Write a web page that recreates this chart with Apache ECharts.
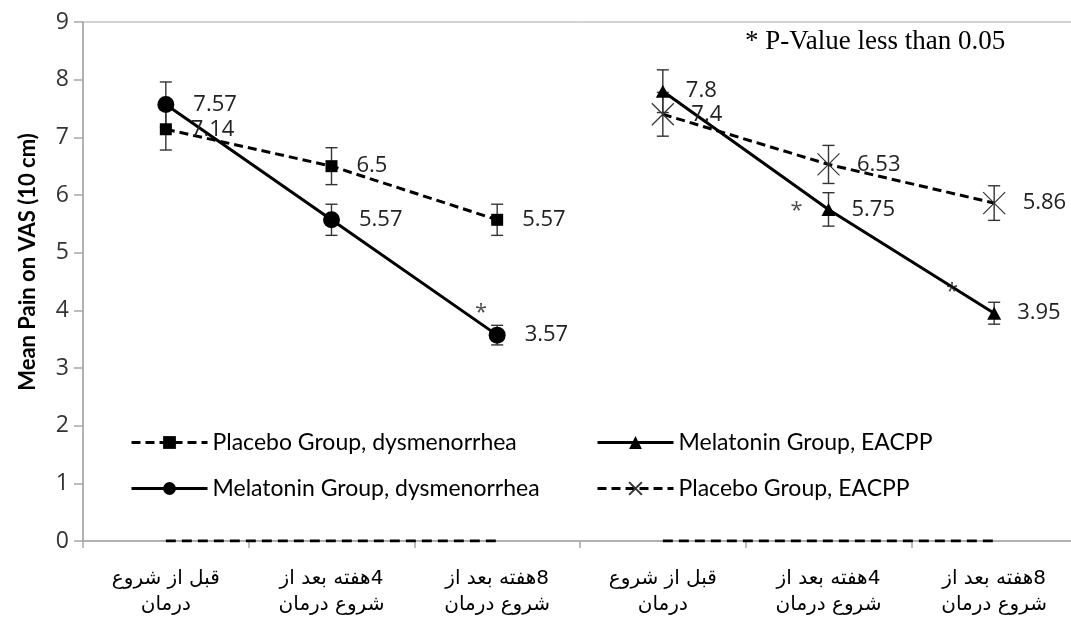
<!DOCTYPE html>
<html><head><meta charset="utf-8">
<script src="https://cdn.jsdelivr.net/npm/echarts@6/dist/echarts.min.js"></script>
<style>html,body{margin:0;padding:0;background:#fff}#c{width:1071px;height:617px}</style>
</head><body><div id="c"></div><script>
// ---- data ----
const categories = [
  'قبل از شروع\nدرمان', '4هفته بعد از\nشروع درمان', '8هفته بعد از\nشروع درمان',
  'قبل از شروع\nدرمان', '4هفته بعد از\nشروع درمان', '8هفته بعد از\nشروع درمان'
];
const yMin = 0, yMax = 9, yInterval = 1;
const placeboDys       = [7.14, 6.5, 5.57, null, null, null];
const placeboDysErr    = [0.36, 0.32, 0.27, null, null, null];
const melatoninDys     = [7.57, 5.57, 3.57, null, null, null];
const melatoninDysErr  = [0.39, 0.27, 0.17, null, null, null];
const melatoninEacpp    = [null, null, null, 7.8, 5.75, 3.95];
const melatoninEacppErr = [null, null, null, 0.37, 0.29, 0.19];
const placeboEacpp      = [null, null, null, 7.4, 6.53, 5.86];
const placeboEacppErr   = [null, null, null, 0.38, 0.33, 0.30];
const zeroLeft  = [0, 0, 0, null, null, null];
const zeroRight = [null, null, null, 0, 0, 0];
// significance markers: [category index, value of the point they refer to]
const asteriskPoints = [[2, 3.57], [4, 5.75], [5, 3.95]];
const noteText = '* P-Value less than 0.05';
const yAxisTitle = 'Mean Pain on VAS (10 cm)';
const names = ['Placebo Group, dysmenorrhea', 'Melatonin Group, EACPP',
               'Melatonin Group, dysmenorrhea', 'Placebo Group, EACPP'];

// ---- build ----
function errRows(vals, errs) {
  const out = [];
  vals.forEach((v, i) => { if (v != null && errs[i] != null) out.push([i, v - errs[i], v + errs[i]]); });
  return out;
}
const errData = [].concat(
  errRows(placeboDys, placeboDysErr), errRows(melatoninDys, melatoninDysErr),
  errRows(melatoninEacpp, melatoninEacppErr), errRows(placeboEacpp, placeboEacppErr));

const RLE = '\u202B', PDF = '\u202C';
const labelFont = 'Open Sans';
const black = '#000';
const xPath = 'path://M0,0L20,20M20,0L0,20';

function lineSeries(name, data, opts) {
  return Object.assign({
    name, type: 'line', data, z: 3,
    connectNulls: false,
    itemStyle: { color: black },
    lineStyle: { color: black, width: 3 },
    label: { show: true, position: 'right', fontFamily: labelFont, fontSize: 22, color: '#222' },
    emphasis: { disabled: true }
  }, opts);
}

const chart = echarts.init(document.getElementById('c'), null, { renderer: 'canvas' });
const legendBase = {
  itemWidth: 76, itemHeight: 16, itemGap: 6,
  textStyle: { fontFamily: 'Lato', fontSize: 23, color: '#000' },
  lineStyle: { width: 3 },
  selectedMode: false, padding: 0
};
chart.setOption({
  animation: false,
  backgroundColor: '#fff',
  title: {
    text: noteText, left: 745, top: 28, padding: 0,
    textStyle: { fontFamily: 'Liberation Serif', fontSize: 27, fontWeight: 'normal', color: '#000' }
  },
  graphic: [{
    type: 'text', x: 28, y: 262, rotation: Math.PI / 2, silent: true,
    style: {
      text: yAxisTitle, align: 'center', verticalAlign: 'middle',
      font: 'bold 22px Lato', fill: '#000'
    }
  }],
  legend: [
    Object.assign({ data: [names[0]], left: 130, top: 431 }, legendBase),
    Object.assign({ data: [names[1]], left: 596, top: 431 }, legendBase),
    Object.assign({ data: [names[2]], left: 130, top: 477 }, legendBase),
    Object.assign({ data: [names[3]], left: 596, top: 477 }, legendBase)
  ],
  grid: {
    left: 83, top: 22, right: -6, bottom: 76,
    show: true, borderColor: '#a6a6a6', borderWidth: 1,
    containLabel: false, outerBoundsMode: 'none'
  },
  xAxis: {
    type: 'category', data: categories, boundaryGap: true,
    axisLine: { show: true, lineStyle: { color: '#a6a6a6', width: 1.5 } },
    axisTick: { show: true, length: 7, lineStyle: { color: '#a6a6a6', width: 1.5 } },
    axisLabel: {
      interval: 0, margin: 25, fontFamily: 'DejaVu Sans', fontSize: 20, color: '#000', lineHeight: 26,
      formatter: v => v.split('\n').map(s => RLE + s + PDF).join('\n')
    },
    splitLine: { show: false }
  },
  yAxis: {
    type: 'value', min: yMin, max: yMax, interval: yInterval,
    axisLine: { show: true, lineStyle: { color: '#a6a6a6', width: 1.5 } },
    axisTick: { show: true, length: 9, lineStyle: { color: '#a6a6a6', width: 1.5 } },
    axisLabel: { margin: 14, fontFamily: 'Open Sans', fontSize: 23, color: '#333' },
    splitLine: { show: false }
  },
  series: [
    {
      name: 'zeroLeft', type: 'line', data: zeroLeft, symbol: 'none', z: 2, silent: true,
      lineStyle: { color: black, width: 3, type: [10, 6] }
    },
    {
      name: 'zeroRight', type: 'line', data: zeroRight, symbol: 'none', z: 2, silent: true,
      lineStyle: { color: black, width: 3, type: [10, 6] }
    },
    {
      name: 'errors', type: 'custom', z: 1, silent: true, data: errData,
      renderItem: function (params, api) {
        const x = api.value(0);
        const lo = api.coord([x, api.value(1)]);
        const hi = api.coord([x, api.value(2)]);
        const w = 6;
        const st = { stroke: '#333', lineWidth: 1.4 };
        return {
          type: 'group', children: [
            { type: 'line', shape: { x1: lo[0], y1: lo[1], x2: hi[0], y2: hi[1] }, style: st },
            { type: 'line', shape: { x1: lo[0] - w, y1: lo[1], x2: lo[0] + w, y2: lo[1] }, style: st },
            { type: 'line', shape: { x1: hi[0] - w, y1: hi[1], x2: hi[0] + w, y2: hi[1] }, style: st }
          ]
        };
      }
    },
    lineSeries(names[0], placeboDys, {
      symbol: 'rect', symbolSize: 12,
      lineStyle: { color: black, width: 3, type: [9, 5] },
      label: { show: true, position: 'right', distance: 19, fontFamily: labelFont, fontSize: 22, color: '#222' }
    }),
    lineSeries(names[2], melatoninDys, {
      symbol: 'circle', symbolSize: 17,
      label: { show: true, position: 'right', distance: 19, fontFamily: labelFont, fontSize: 22, color: '#222' }
    }),
    lineSeries(names[1], melatoninEacpp, {
      symbol: 'triangle', symbolSize: [14, 13],
      label: { show: true, position: 'right', distance: 16, fontFamily: labelFont, fontSize: 22, color: '#222' }
    }),
    lineSeries(names[3], placeboEacpp, {
      symbol: xPath, symbolSize: 22,
      itemStyle: { color: 'none', borderColor: '#333', borderWidth: 1.2 },
      lineStyle: { color: black, width: 3, type: [9, 5] },
      label: { show: true, position: 'right', distance: 15, fontFamily: labelFont, fontSize: 22, color: '#222' }
    }),
    {
      name: 'asterisks', type: 'scatter', z: 4, silent: true, symbolSize: 0,
      data: asteriskPoints.map((p, i) => ({
        value: p,
        label: { offset: [[-16, -22], [-32, 1], [-42, -21]][i] }
      })),
      label: { show: true, position: 'inside', formatter: '*', fontFamily: 'Open Sans', fontSize: 22, color: '#222' }
    }
  ]
});
</script></body></html>
